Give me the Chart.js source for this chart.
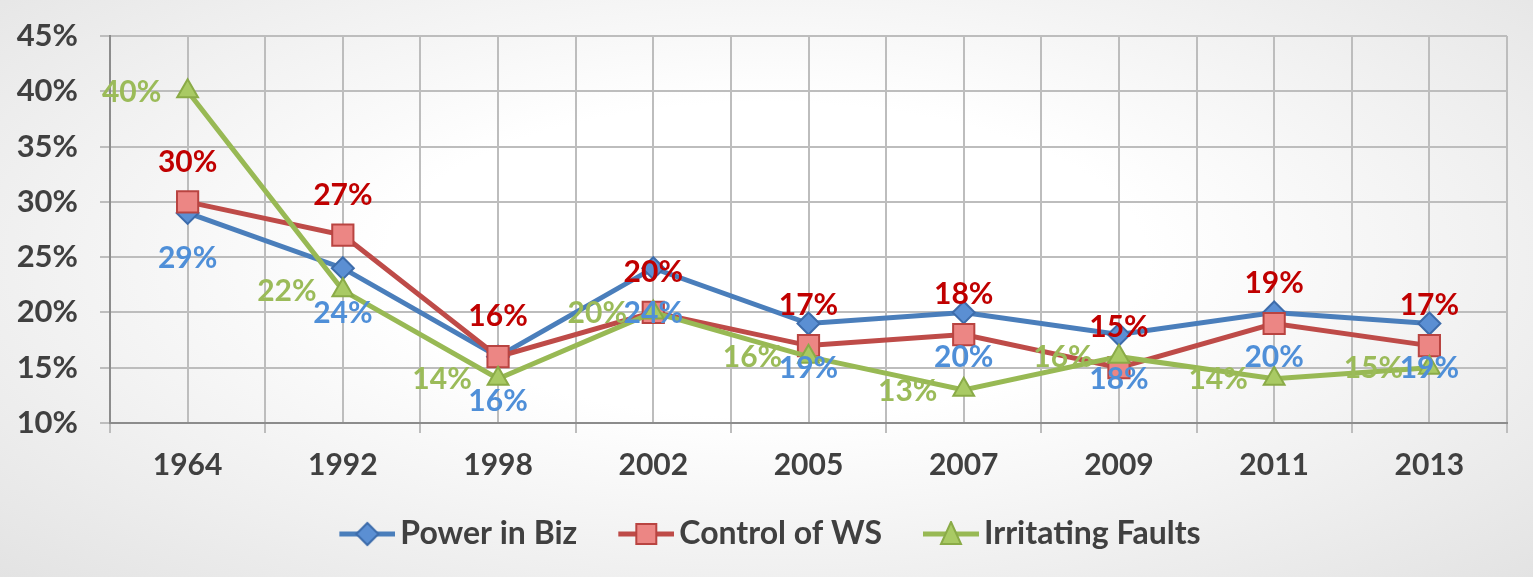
<!DOCTYPE html>
<html>
<head>
<meta charset="utf-8">
<script src="https://cdn.jsdelivr.net/npm/chart.js@4.4.0/dist/chart.umd.min.js"></script>
<style>
    html, body { margin: 0; padding: 0; }
    body {
        width: 1533px; height: 577px; overflow: hidden;
        background: radial-gradient(ellipse at 50% 45%, #ffffff 35%, #e3e3e3 100%);
    }
    #wrap { position: relative; width: 1533px; height: 577px; }
</style>
</head>
<body>
<div id="wrap"><canvas id="myChart"></canvas></div>
<script>
// datos (en %)
const years = ["1964", "1992", "1998", "2002", "2005", "2007", "2009", "2011", "2013"];
const powerInBiz = [29, 24, 16, 24, 19, 20, 18, 20, 19];
const controlOfWS = [30, 27, 16, 20, 17, 18, 15, 19, 17];
const irritatingFaults = [40, 22, 14, 20, 16, 13, 16, 14, 15];
const yTicks = [10, 15, 20, 25, 30, 35, 40, 45];

const FONT = "Lato, 'Open Sans', sans-serif";

// icono de leyenda estilo Excel: linea + marcador
function legendIcon(shape, line, fill, border) {
    const c = document.createElement("canvas");
    c.width = 100;
    c.height = 26;
    const g = c.getContext("2d");
    const cx = 72, cy = 13;
    g.strokeStyle = line;
    g.lineWidth = 5;
    g.beginPath();
    g.moveTo(44, cy);
    g.lineTo(100, cy);
    g.stroke();
    g.fillStyle = fill;
    g.strokeStyle = border;
    g.lineWidth = 2;
    g.beginPath();
    if (shape == "diamond") {
        g.moveTo(cx, cy - 11); g.lineTo(cx + 11, cy); g.lineTo(cx, cy + 11); g.lineTo(cx - 11, cy);
    } else if (shape == "square") {
        g.rect(cx - 10, cy - 10, 20, 20);
    } else {
        g.moveTo(cx, cy - 12); g.lineTo(cx + 10, cy + 10); g.lineTo(cx - 10, cy + 10);
    }
    g.closePath();
    g.fill();
    g.stroke();
    return c;
}

const labelPlugin = {
    id: "pctLabels",
    afterDatasetsDraw(chart) {
        const ctx = chart.ctx;
        ctx.save();
        ctx.font = "bold 30px " + FONT;
        ctx.textAlign = "center";
        ctx.textBaseline = "middle";
        [2, 1, 0].forEach((i) => {
            const ds = chart.data.datasets[i];
            const meta = chart.getDatasetMeta(i);
            meta.data.forEach((pt, j) => {
                ctx.fillStyle = ds.labelColor;
                ctx.fillText(ds.data[j] + "%", pt.x + ds.labelDx, pt.y + ds.labelDy);
            });
        });
        ctx.restore();
    },
};

const ctx = document.getElementById("myChart");

new Chart(ctx, {
    type: "line",
    data: {
        labels: years,
        datasets: [
            {
                label: "Power in Biz",
                data: powerInBiz,
                borderColor: "#4a7ebb",
                borderWidth: 5,
                pointStyle: "rectRot",
                pointRadius: 11,
                pointBackgroundColor: "#5b8fd3",
                pointBorderColor: "#3d6cab",
                pointBorderWidth: 2,
                labelColor: "#4f8fd8",
                labelDx: 0,
                labelDy: 45,
                order: 3,
                legendIcon: legendIcon("diamond", "#4a7ebb", "#5b8fd3", "#3d6cab"),
            },
            {
                label: "Control of WS",
                data: controlOfWS,
                borderColor: "#be4b48",
                borderWidth: 5,
                pointStyle: "rect",
                pointRadius: 15,
                pointBackgroundColor: "#ec8684",
                pointBorderColor: "#b94441",
                pointBorderWidth: 2,
                labelColor: "#c00000",
                labelDx: 0,
                labelDy: -40,
                order: 2,
                legendIcon: legendIcon("square", "#be4b48", "#ec8684", "#b94441"),
            },
            {
                label: "Irritating Faults",
                data: irritatingFaults,
                borderColor: "#98b954",
                borderWidth: 5,
                pointStyle: "triangle",
                pointRadius: 12,
                pointBackgroundColor: "#a9ca64",
                pointBorderColor: "#8aab47",
                pointBorderWidth: 2,
                labelColor: "#9bbb59",
                labelDx: -56,
                labelDy: 1,
                order: 1,
                legendIcon: legendIcon("triangle", "#98b954", "#a9ca64", "#8aab47"),
            },
        ],
    },
    options: {
        responsive: true,
        maintainAspectRatio: false,
        animation: false,
        layout: { padding: { top: 36, right: 26, left: 0, bottom: 17 } },
        plugins: {
            tooltip: { enabled: false },
            legend: {
                position: "bottom",
                labels: {
                    usePointStyle: true,
                    pointStyleWidth: 78,
                    padding: 8,
                    color: "#404040",
                    font: { family: FONT, size: 32, weight: "bold" },
                    generateLabels(chart) {
                        return chart.data.datasets.map((ds, i) => ({
                            text: ds.label,
                            pointStyle: ds.legendIcon,
                            fillStyle: ds.borderColor,
                            strokeStyle: ds.borderColor,
                            lineWidth: 0,
                            hidden: false,
                            datasetIndex: i,
                            fontColor: "#404040",
                        }));
                    },
                },
            },
        },
        scales: {
            x: {
                type: "category",
                offset: true,
                grid: { offset: true, color: "#bdbdbd", lineWidth: 2, tickLength: 10 },
                border: { color: "#8c8c8c", width: 2 },
                ticks: {
                    color: "#404040",
                    padding: 14,
                    font: { family: FONT, size: 30, weight: "bold" },
                },
                afterFit(scale) { scale.height = 87; },
            },
            x2: {
                type: "category",
                position: "bottom",
                offset: true,
                grid: { offset: false, color: "#bdbdbd", lineWidth: 2, drawTicks: false },
                border: { display: false },
                ticks: { display: false },
                afterFit(scale) { scale.height = 0; },
            },
            y: {
                min: 10,
                max: 45,
                afterBuildTicks(scale) { scale.ticks = yTicks.map((v) => ({ value: v })); },
                grid: { color: "#bdbdbd", lineWidth: 2, tickLength: 10 },
                border: { color: "#8c8c8c", width: 2 },
                ticks: {
                    color: "#404040",
                    padding: 22,
                    font: { family: FONT, size: 31, weight: "bold" },
                    callback: (v) => v + "%",
                },
                afterFit(scale) {
                    scale.width = 110;
                    scale.paddingTop = 10;
                    scale.paddingBottom = 10;
                },
            },
        },
    },
    plugins: [labelPlugin],
});
</script>
</body>
</html>
